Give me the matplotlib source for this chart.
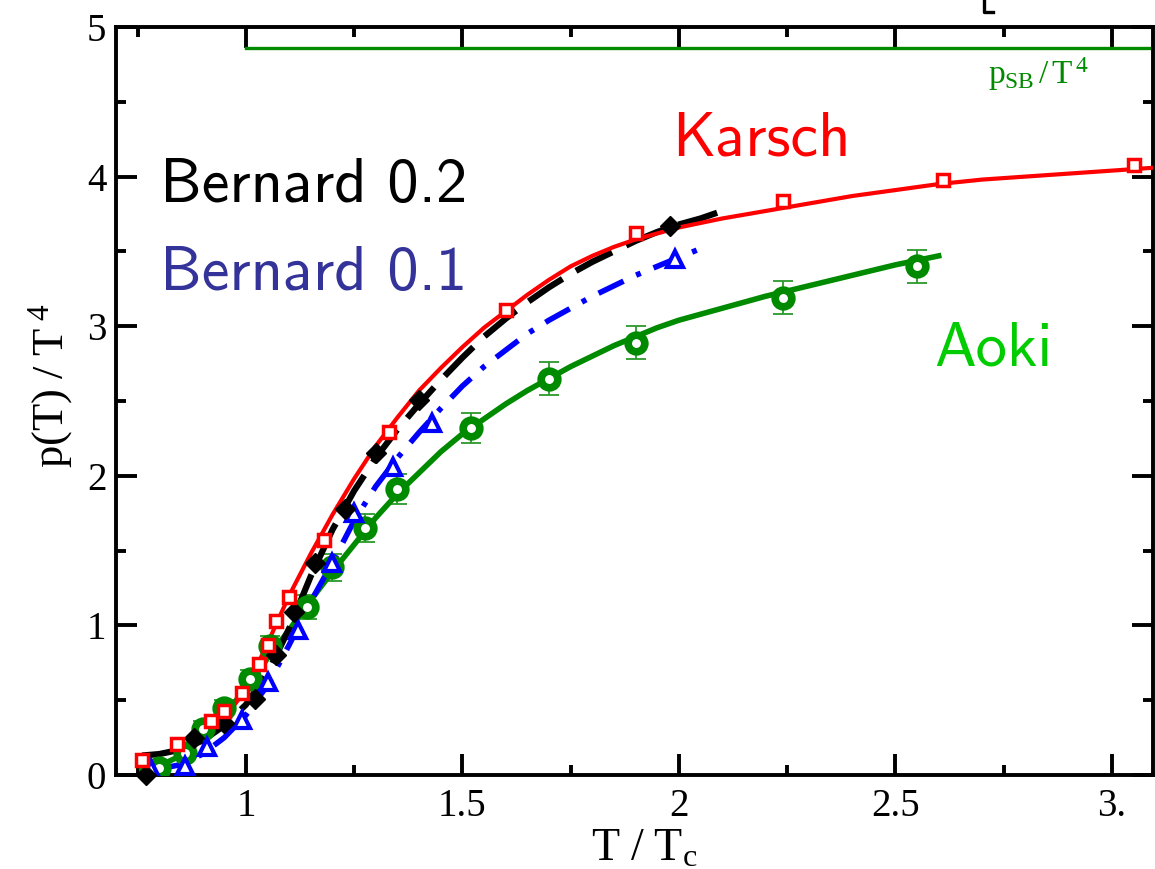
import matplotlib.pyplot as plt
from matplotlib.lines import Line2D
from matplotlib.ticker import MultipleLocator

# Karsch lattice points and fit
karsch_t = [0.76, 0.84, 0.92, 0.95, 0.99, 1.03, 1.05, 1.07, 1.10, 1.18, 1.33, 1.60, 1.90, 2.24, 2.61, 3.05]
karsch_p = [0.10, 0.21, 0.36, 0.43, 0.55, 0.74, 0.87, 1.03, 1.19, 1.57, 2.29, 3.11, 3.62, 3.84, 3.98, 4.08]
karsch_fit_t = [0.86, 0.90, 0.95, 1.00, 1.05, 1.10, 1.15, 1.20, 1.25, 1.30, 1.35, 1.40, 1.45,
                1.50, 1.55, 1.60, 1.65, 1.70, 1.75, 1.80, 1.85, 1.90, 1.95, 2.00, 2.10,
                2.20, 2.30, 2.40, 2.50, 2.60, 2.70, 2.80, 2.90, 3.00, 3.10]
karsch_fit_p = [0.17, 0.25, 0.38, 0.57, 0.88, 1.20, 1.48, 1.74, 1.98, 2.20, 2.39, 2.57, 2.72,
                2.86, 2.99, 3.10, 3.21, 3.31, 3.40, 3.47, 3.53, 3.58, 3.62, 3.66, 3.72,
                3.77, 3.82, 3.87, 3.91, 3.95, 3.98, 4.00, 4.02, 4.04, 4.06]

# Bernard, a = 0.2
bern2_t = [0.77, 0.88, 0.95, 1.02, 1.07, 1.11, 1.16, 1.23, 1.30, 1.40, 1.98]
bern2_p = [0.00, 0.25, 0.35, 0.51, 0.80, 1.09, 1.42, 1.78, 2.15, 2.51, 3.67]
bern2_fit_t = [0.76, 0.80, 0.85, 0.90, 0.95, 1.00, 1.05, 1.10, 1.15, 1.20, 1.25, 1.30, 1.35,
               1.40, 1.45, 1.50, 1.55, 1.60, 1.65, 1.70, 1.75, 1.80, 1.85, 1.90, 1.95,
               2.00, 2.05, 2.09]
bern2_fit_p = [0.13, 0.14, 0.17, 0.23, 0.33, 0.47, 0.68, 0.98, 1.33, 1.64, 1.90, 2.12, 2.31,
               2.48, 2.64, 2.79, 2.93, 3.05, 3.16, 3.26, 3.35, 3.43, 3.50, 3.57, 3.63,
               3.68, 3.72, 3.76]

# Bernard, a = 0.1
bern1_t = [0.78, 0.86, 0.91, 0.99, 1.05, 1.12, 1.20, 1.25, 1.34, 1.43, 1.99]
bern1_p = [0.04, 0.06, 0.19, 0.37, 0.62, 0.97, 1.42, 1.75, 2.06, 2.35, 3.45]
bern1_fit_t = [0.80, 0.85, 0.90, 0.95, 1.00, 1.05, 1.10, 1.15, 1.20, 1.25, 1.30, 1.35, 1.40,
               1.45, 1.50, 1.55, 1.60, 1.65, 1.70, 1.75, 1.80, 1.85, 1.90, 1.95, 2.00, 2.06]
bern1_fit_p = [0.04, 0.07, 0.14, 0.25, 0.40, 0.60, 0.87, 1.16, 1.42, 1.70, 1.93, 2.12, 2.29,
               2.45, 2.60, 2.73, 2.84, 2.95, 3.04, 3.12, 3.20, 3.27, 3.34, 3.40, 3.46, 3.53]

# Aoki points with errors and fit
aoki_t = [0.80, 0.86, 0.90, 0.95, 1.01, 1.055, 1.14, 1.20, 1.275, 1.35, 1.52, 1.70, 1.90, 2.24, 2.55]
aoki_p = [0.05, 0.15, 0.31, 0.45, 0.64, 0.86, 1.12, 1.39, 1.65, 1.91, 2.32, 2.65, 2.89, 3.19, 3.40]
aoki_err = [0.03, 0.04, 0.05, 0.05, 0.06, 0.07, 0.08, 0.09, 0.095, 0.10, 0.10, 0.11, 0.11, 0.11, 0.11]
aoki_fit_t = [0.76, 0.80, 0.85, 0.90, 0.95, 1.00, 1.05, 1.10, 1.15, 1.20, 1.25, 1.30, 1.35,
              1.40, 1.45, 1.50, 1.55, 1.60, 1.65, 1.70, 1.75, 1.80, 1.85, 1.90, 1.95,
              2.00, 2.10, 2.20, 2.30, 2.40, 2.50, 2.60]
aoki_fit_p = [0.03, 0.06, 0.13, 0.25, 0.40, 0.58, 0.78, 0.97, 1.17, 1.36, 1.54, 1.72, 1.88,
              2.02, 2.16, 2.28, 2.38, 2.48, 2.57, 2.65, 2.73, 2.80, 2.87, 2.93, 2.99,
              3.04, 3.12, 3.20, 3.27, 3.34, 3.41, 3.47]

# Stefan-Boltzmann limit
sb_t = [1.0, 3.1]
sb_p = [4.86, 4.86]

RED = '#ff0000'
BLUE = '#0000ff'
GREEN = '#008a00'

plt.rcParams['font.family'] = ['Liberation Serif', 'DejaVu Serif']
plt.rcParams['mathtext.fontset'] = 'custom'
plt.rcParams['mathtext.rm'] = 'Liberation Serif'
plt.rcParams['mathtext.it'] = 'Liberation Serif:italic'

fig = plt.figure(figsize=(11.55, 8.69), dpi=100)
ax = fig.add_axes([116 / 1155, 94 / 869, 1037 / 1155, 748 / 869])

ax.plot(sb_t, sb_p, color=GREEN, lw=2.4)

ax.errorbar(aoki_t, aoki_p, yerr=aoki_err, fmt='none', ecolor='#2a9a2a',
            elinewidth=1.3, capsize=7, capthick=1.3, zorder=2)
ax.plot(aoki_fit_t, aoki_fit_p, color=GREEN, lw=4, zorder=3)
ax.plot(bern1_fit_t, bern1_fit_p, color=BLUE, lw=4, dashes=(5, 2.5, 0.9, 2.5), zorder=3)
ax.plot(bern2_fit_t, bern2_fit_p, color='black', lw=4.5, dashes=(6.5, 2.5), zorder=3)
ax.plot(karsch_fit_t, karsch_fit_p, color=RED, lw=3, zorder=3)

ax.plot(aoki_t, aoki_p, 'o', ms=12, mfc='white', mec=GREEN, mew=5.5, zorder=4)
ax.plot(bern1_t, bern1_p, '^', ms=12, mfc='white', mec=BLUE, mew=3, zorder=4)
ax.plot(bern2_t, bern2_p, 'D', ms=10, color='black', zorder=4, clip_on=False)
ax.plot(karsch_t, karsch_p, 's', ms=8, mfc='white', mec=RED, mew=2.5, zorder=4)

sans = {'family': 'cmss10', 'fontsize': 45}
ax.text(1.984, 4.144, 'Karsch', color=RED, va='baseline', **sans)
ax.text(0.801, 3.83, 'Bernard 0.2', color='black', va='baseline', **sans)
ax.text(0.801, 3.242, 'Bernard 0.1', color='#333399', va='baseline', **sans)
ax.text(2.59, 2.734, 'Aoki', color='#00cc00', va='baseline', **sans)
ax.text(2.715, 4.62, r'$\mathrm{p_{SB}\,/\,T^{\,4}}$', color=GREEN, fontsize=24, va='baseline')

ax.set_xlim(0.7, 3.095)
ax.set_ylim(0, 5)
ax.set_xticks([1, 1.5, 2, 2.5, 3])
ax.set_xticklabels(['1', '1.5', '2', '2.5', '3.'])
ax.set_yticks([0, 1, 2, 3, 4, 5])
ax.xaxis.set_minor_locator(MultipleLocator(0.25))
ax.yaxis.set_minor_locator(MultipleLocator(0.5))
ax.tick_params(which='both', direction='in', top=True, right=True, width=2.8)
ax.tick_params(which='major', length=15, labelsize=28)
ax.tick_params(which='minor', length=7)
ax.tick_params(axis='y', pad=7)
ax.tick_params(axis='x', pad=9)
for spine in ax.spines.values():
    spine.set_linewidth(2.8)

ax.set_xlabel(r'$\mathrm{T\ /\ T_c}$', fontsize=33)
ax.xaxis.set_label_coords(0.509, -0.071)
ax.set_ylabel(r'$\mathrm{p(T)\ /\ T^{\ 4}}$', fontsize=32)
ax.yaxis.set_label_coords(-0.040, 0.521)

# corner of a bracket poking in from above the frame
W, H = 1155, 869
fig.add_artist(Line2D([984 / W, 984 / W, 993 / W], [1, 1 - 12 / H, 1 - 12 / H],
                      transform=fig.transFigure, color='black', lw=2.4))

fig.savefig('out.png', dpi=100)
